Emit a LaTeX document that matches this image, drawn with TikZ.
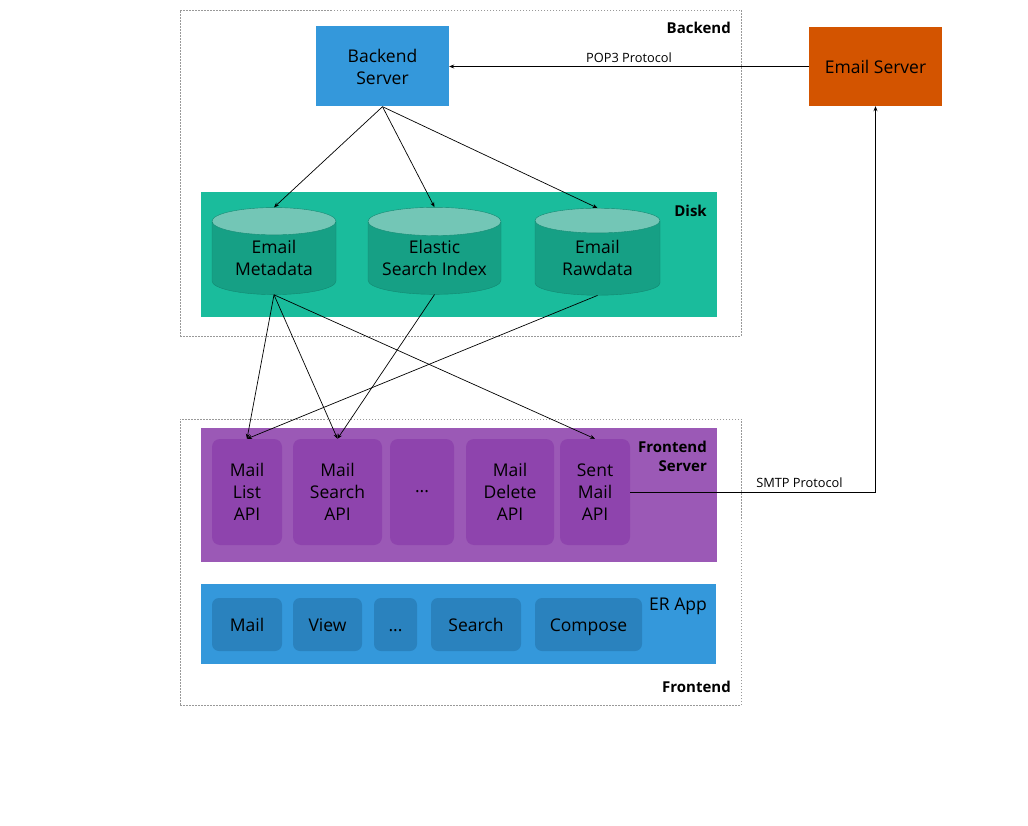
\documentclass[tikz,border=0pt]{standalone}
\usepackage{fontspec}
\setmainfont{Open Sans}
\usetikzlibrary{positioning,shapes.geometric,arrows.meta}

\definecolor{srvblue}{HTML}{3498DB}
\definecolor{appblue}{HTML}{2A82BE}
\definecolor{mailorange}{HTML}{D35400}
\definecolor{diskteal}{HTML}{1ABC9C}
\definecolor{dbteal}{HTML}{16A085}
\definecolor{dbtop}{HTML}{73C6B6}
\definecolor{fepurple}{HTML}{9B59B6}
\definecolor{apipurple}{HTML}{8E44AD}

\begin{document}
\begin{tikzpicture}[x=1pt, y=-1pt,
  every node/.style={align=center, inner sep=0pt, font=\fontsize{17.5}{22}\selectfont},
  zone/.style={draw=gray!80, line width=0.7pt, dash pattern=on 1.5pt off 1.5pt},
  tag/.style={font=\fontsize{15}{19}\selectfont\bfseries, align=right},
  proto/.style={font=\fontsize{12.8}{15}\selectfont},
  server/.style={fill=#1, minimum width=133, minimum height=80},
  panel/.style={fill=#1, minimum width=516},
  db/.style={cylinder, shape border rotate=90, aspect=0.35, minimum height=87,
    cylinder uses custom fill, cylinder body fill=dbteal, cylinder end fill=dbtop,
    draw=dbteal!85!black, line width=0.4pt},
  api/.style={fill=apipurple, rounded corners=8, minimum height=106},
  appbox/.style={fill=appblue, rounded corners=7, minimum height=53,
    text height=15, text depth=2},
  link/.style={-{Stealth[length=5pt,width=4pt]}, line width=0.7pt}]
\useasboundingbox (0,0) rectangle (1028,826);

% backend side
\node (backend) [zone, minimum width=561, minimum height=326] at (460.5,173) {};
\node [tag, anchor=east] at (731,28) {Backend};
\node (bserver) [server=srvblue] at (382.5,66.5) {Backend\\Server};
\node (mailsrv) [server=mailorange, minimum height=79] at (875.5,66.5) {Email Server};

\node (disk) [panel=diskteal, minimum height=125] at (459,254.5) {};
\node [tag, anchor=east] at (707,211) {Disk};
\node (meta) [db, minimum width=124] at (274,258) {Email\\Metadata};
\node (esidx) [db, minimum width=133, aspect=0.27] at (434.5,258) {Elastic\\Search Index};
\node (raw) [db, minimum width=125] at (597.5,258) {Email\\Rawdata};

% frontend side
\node (frontend) [zone, minimum width=561, minimum height=286] at (460.5,562) {};
\node [tag, anchor=east] at (731,687) {Frontend};

\node (fserver) [panel=fepurple, minimum height=134] at (459,495) {};
\node [tag, anchor=east] at (707,456.5) {Frontend\\Server};
\node (listapi) [api, minimum width=70] at (247,492) {Mail\\List\\API};
\node (searchapi) [api, minimum width=89] at (337.5,492) {Mail\\Search\\API};
\node (moreapi) [api, minimum width=64] at (422,492) {...};
\node (delapi) [api, minimum width=88] at (510,492) {Mail\\Delete\\API};
\node (sentapi) [api, minimum width=70] at (595,492) {Sent\\Mail\\API};

\node (erapp) [panel=srvblue, minimum width=515, minimum height=80] at (458.5,624) {};
\node [anchor=east] at (707,606) {ER App};
\node (mailview) [appbox, minimum width=70] at (247,624.5) {Mail};
\node (view) [appbox, minimum width=69] at (327.5,624.5) {View};
\node (moreview) [appbox, minimum width=43] at (395.5,624.5) {...};
\node (search) [appbox, minimum width=90] at (476,624.5) {Search};
\node (compose) [appbox, minimum width=107] at (588.5,624.5) {Compose};

% connectors
\draw[link] (mailsrv) -- node[proto, above=4pt, pos=0.5] {POP3 Protocol} (bserver);
\draw[link] (bserver.south) -- (meta.north);
\draw[link] (bserver.south) -- (esidx.north);
\draw[link] (bserver.south) -- (raw.north);
\draw[link] (meta.south) -- (listapi.north);
\draw[link] (meta.south) -- (searchapi.north);
\draw[link] (meta.south) -- (sentapi.north);
\draw[link] (esidx.south) -- (searchapi.north);
\draw[link] (raw.south) -- (listapi.north);
\draw[link] (sentapi.east) -| node[proto, above=4pt, pos=0.345] {SMTP Protocol} (mailsrv.south);
\end{tikzpicture}
\end{document}
